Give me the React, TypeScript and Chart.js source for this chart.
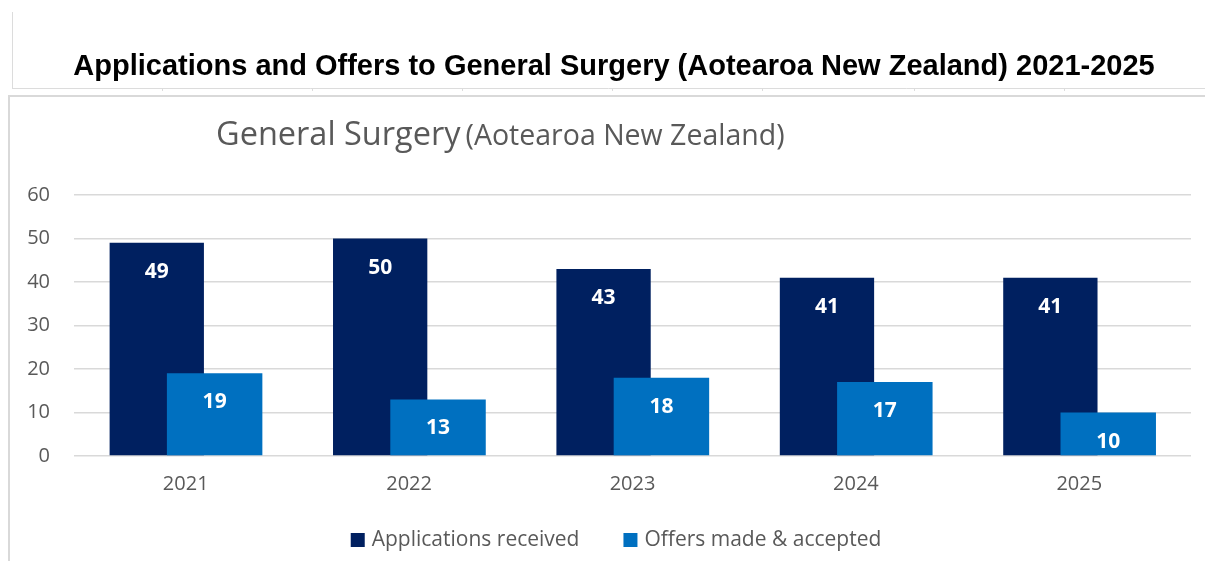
import { useEffect, useRef } from "react";
import { Chart, registerables } from "chart.js";

Chart.register(...registerables);

const years = ["2021", "2022", "2023", "2024", "2025"];
const applications = [49, 50, 43, 41, 41];
const offers = [19, 13, 18, 17, 10];
const yMin = 0;
const yMax = 60;
const yStep = 10;
const mainTitle = "Applications and Offers to General Surgery (Aotearoa New Zealand) 2021-2025";
const subtitleMain = "General Surgery";
const subtitleSub = "(Aotearoa New Zealand)";
const seriesNames = ["Applications received", "Offers made & accepted"];
const seriesColors = ["#002060", "#0070C0"];

const W = 1205;
const H = 561;
const GRAY = "#595959";
const SANS = "'Open Sans', 'Noto Sans', sans-serif";

const decorPlugin = {
  id: "decor",
  beforeDraw(chart: any) {
    const ctx = chart.ctx;
    ctx.save();
    ctx.fillStyle = "#ffffff";
    ctx.fillRect(0, 0, W, H);
    // spreadsheet-like faint lines
    ctx.strokeStyle = "#dcdcdc";
    ctx.lineWidth = 1;
    ctx.beginPath();
    ctx.moveTo(12.5, 12);
    ctx.lineTo(12.5, 89);
    ctx.moveTo(12, 88.5);
    ctx.lineTo(W, 88.5);
    for (const x of [162, 312, 462, 612, 762, 914, 1064]) {
      ctx.moveTo(x + 0.5, 88);
      ctx.lineTo(x + 0.5, 91);
    }
    ctx.stroke();
    // chart frame
    ctx.strokeStyle = "#d9d9d9";
    ctx.lineWidth = 2;
    ctx.beginPath();
    ctx.moveTo(W, 96);
    ctx.lineTo(9, 96);
    ctx.lineTo(9, H);
    ctx.stroke();
    // main title
    ctx.fillStyle = "#000000";
    ctx.font = "bold 29px 'Liberation Sans', Arial, sans-serif";
    ctx.textAlign = "center";
    ctx.textBaseline = "alphabetic";
    ctx.fillText(mainTitle, 614, 75);
    // chart subtitle
    ctx.fillStyle = GRAY;
    ctx.textAlign = "left";
    ctx.font = "32.5px " + SANS;
    ctx.fillText(subtitleMain, 216, 145);
    const w1 = ctx.measureText(subtitleMain).width;
    ctx.font = "28.5px " + SANS;
    ctx.fillText(subtitleSub, 216 + w1 + 5, 145);
    ctx.restore();
  },
};

const orderPlugin = {
  id: "drawOrder",
  beforeDatasetsDraw(chart: any) {
    for (let i = 0; i < chart.data.datasets.length; i++) {
      const meta = chart.getDatasetMeta(i);
      if (!meta.hidden) meta.controller.draw();
    }
    return false;
  },
};

const labelsPlugin = {
  id: "valueLabels",
  afterDraw(chart: any) {
    const ctx = chart.ctx;
    ctx.save();
    ctx.fillStyle = "#ffffff";
    ctx.font = "bold 21px " + SANS;
    ctx.textAlign = "center";
    ctx.textBaseline = "alphabetic";
    chart.data.datasets.forEach((ds: any, i: number) => {
      const meta = chart.getDatasetMeta(i);
      meta.data.forEach((el: any, j: number) => {
        ctx.fillText(String(ds.data[j]), el.x, el.y + 35);
      });
    });
    // legend
    ctx.font = "21px " + SANS;
    ctx.textAlign = "left";
    const box = 14;
    const gap = 7;
    const itemGap = 44;
    const widths = seriesNames.map((n) => box + gap + ctx.measureText(n).width);
    const total = widths.reduce((a, b) => a + b, 0) + itemGap * (widths.length - 1);
    let x = 616 - total / 2;
    seriesNames.forEach((n, i) => {
      ctx.fillStyle = seriesColors[i];
      ctx.fillRect(x, 533, box, box);
      ctx.fillStyle = GRAY;
      ctx.fillText(n, x + box + gap, 546);
      x += widths[i] + itemGap;
    });
    ctx.restore();
  },
};

export default function App() {
  const ref = useRef<HTMLCanvasElement | null>(null);
  useEffect(() => {
    if (!ref.current) return;
    const chart = new Chart(ref.current, {
      type: "bar",
      data: {
        labels: years,
        datasets: [
          {
            label: seriesNames[0],
            data: applications,
            backgroundColor: seriesColors[0],
            categoryPercentage: 0.518,
            barPercentage: 1.63,
          },
          {
            label: seriesNames[1],
            data: offers,
            backgroundColor: seriesColors[1],
            categoryPercentage: 0.518,
            barPercentage: 1.65,
          },
        ],
      },
      options: {
        responsive: false,
        animation: false,
        devicePixelRatio: 1,
        layout: { padding: { top: 195, bottom: 65, left: 0, right: 14 } },
        plugins: {
          legend: { display: false },
          title: { display: false },
          tooltip: { enabled: false },
        },
        scales: {
          x: {
            grid: { display: false, drawTicks: false },
            border: { display: false },
            ticks: { color: GRAY, font: { family: SANS, size: 20 }, padding: 16 },
            afterFit: (s: any) => {
              s.height = 40;
            },
          },
          y: {
            min: yMin,
            max: yMax,
            grid: { color: "#d9d9d9", lineWidth: 1.5, drawTicks: false },
            border: { display: false },
            ticks: {
              stepSize: yStep,
              color: GRAY,
              font: { family: SANS, size: 20 },
              padding: 24,
            },
            afterFit: (s: any) => {
              s.width = 74;
            },
          },
        },
      },
      plugins: [decorPlugin, orderPlugin, labelsPlugin],
    });
    return () => chart.destroy();
  }, []);
  return (
    <div style={{ position: "absolute", left: 0, top: 0, width: W, height: H, background: "#fff" }}>
      <canvas ref={ref} width={W} height={H} style={{ display: "block" }} />
    </div>
  );
}
